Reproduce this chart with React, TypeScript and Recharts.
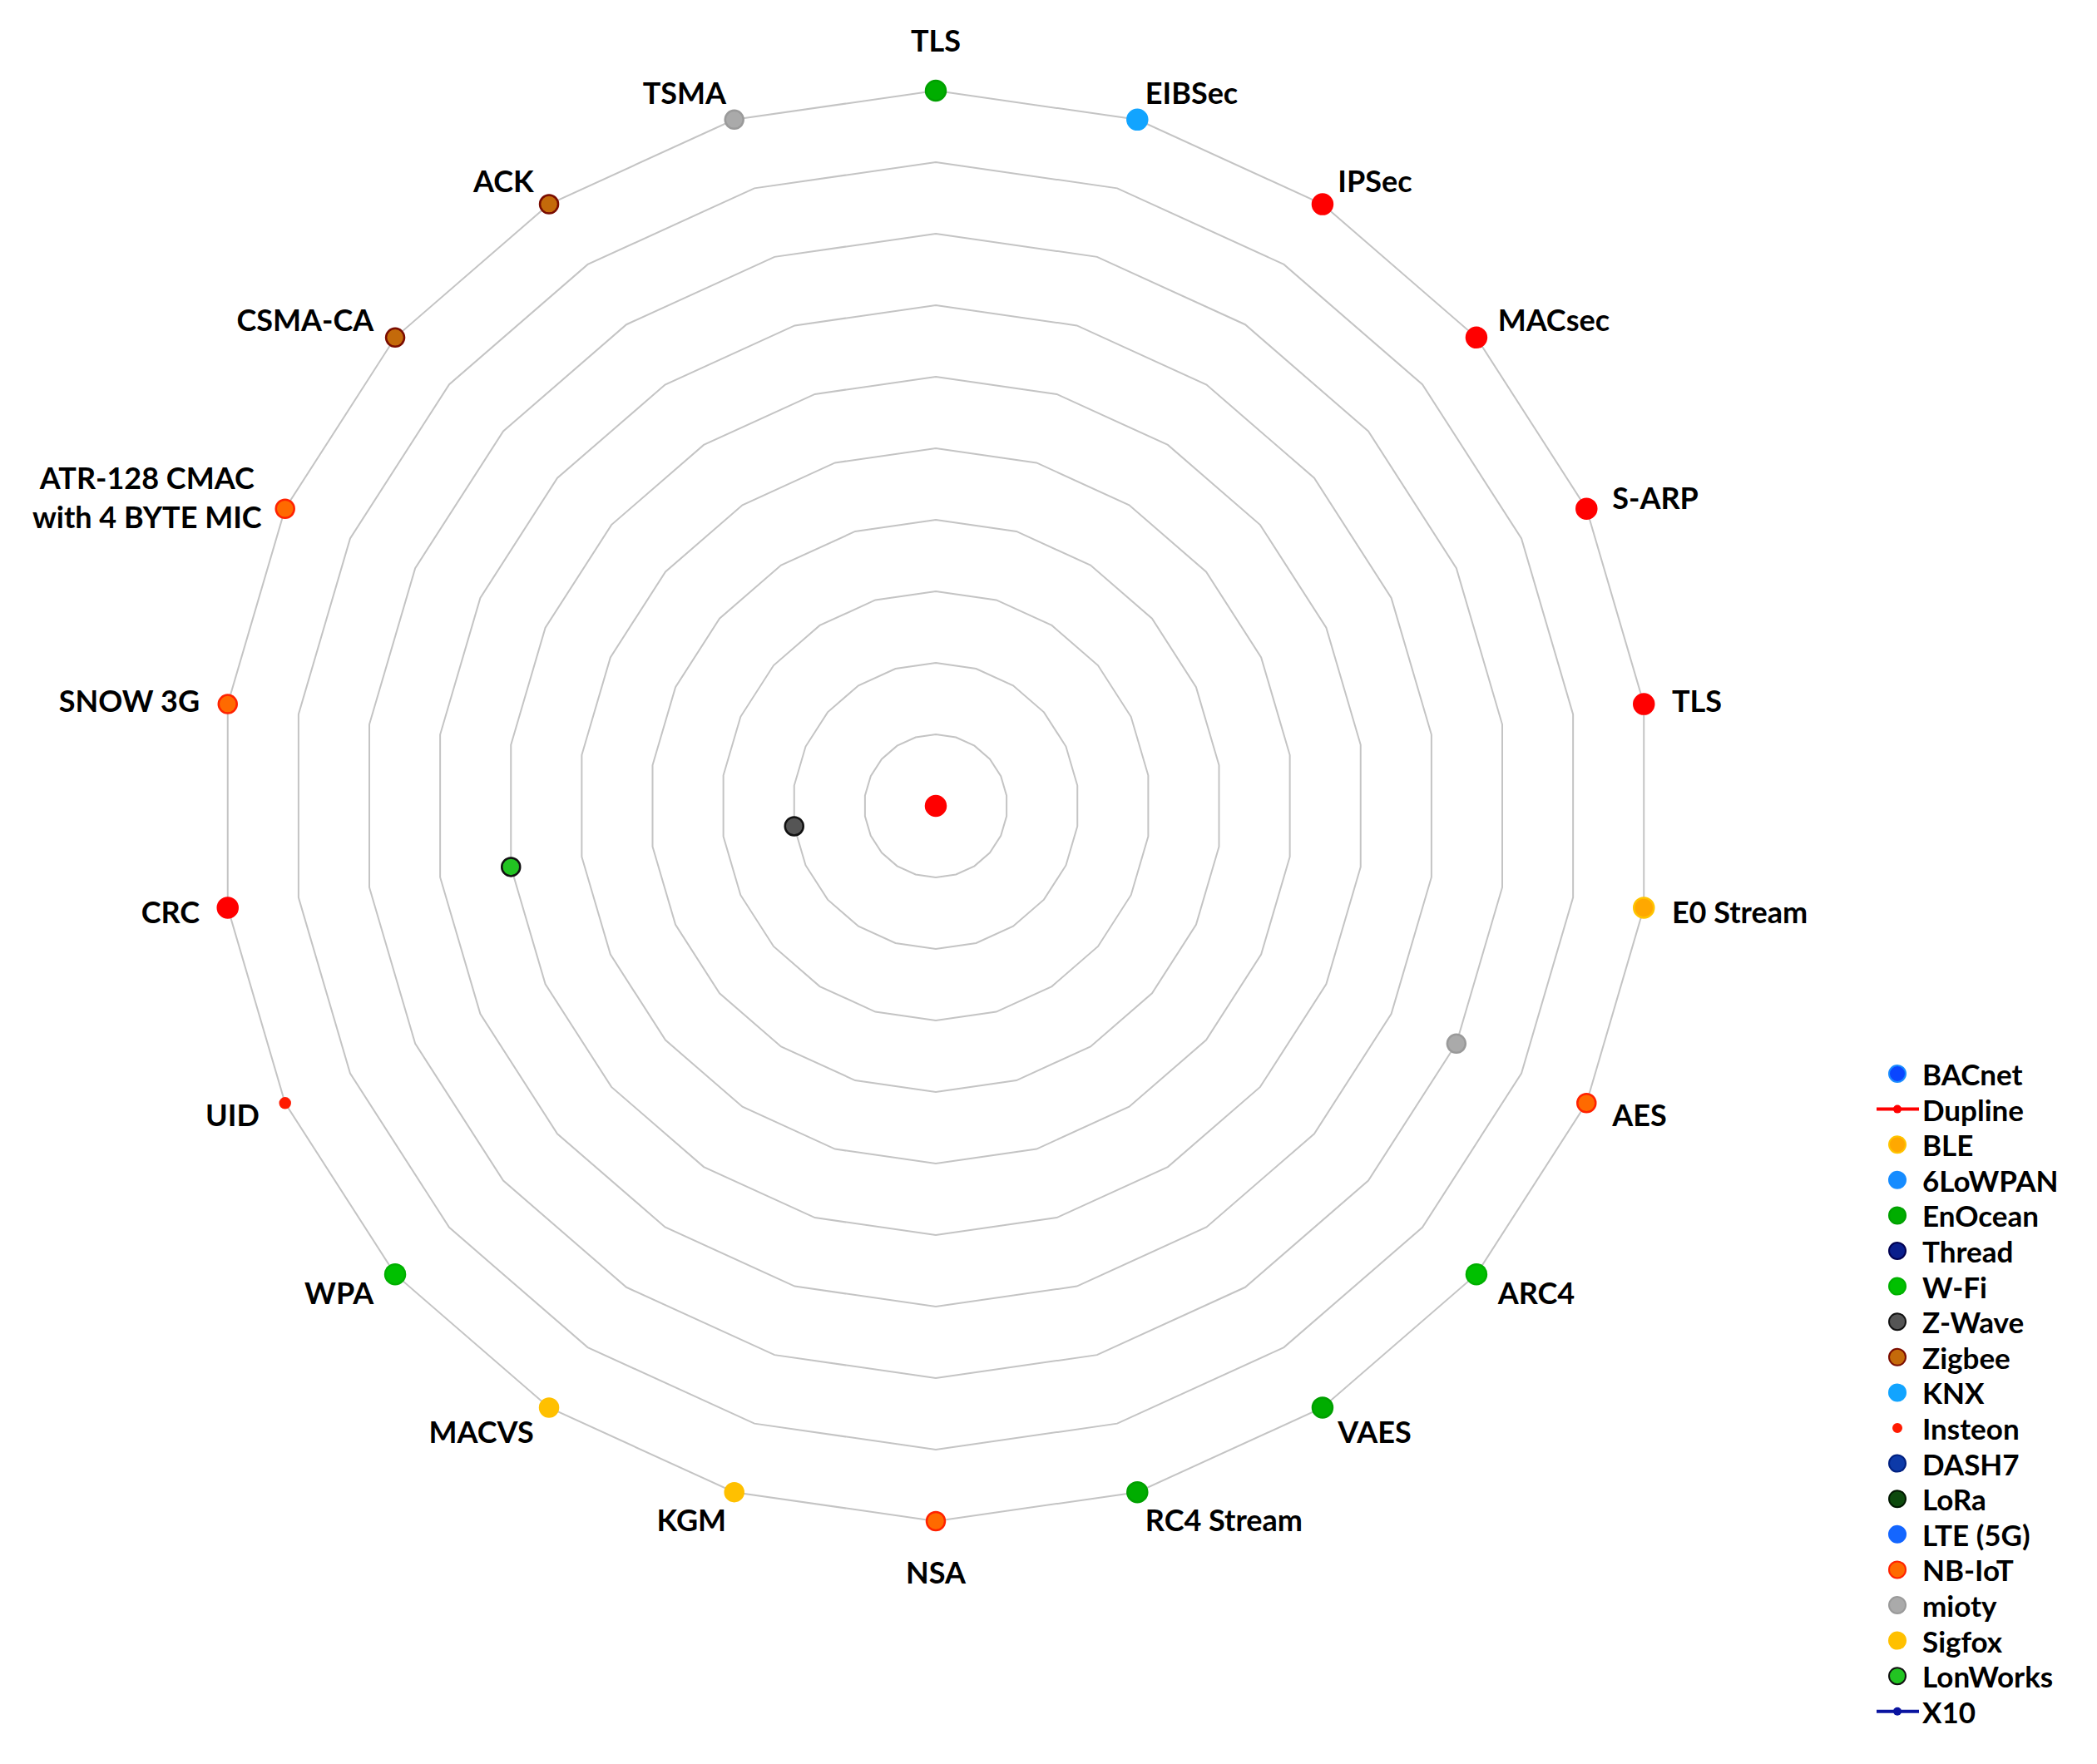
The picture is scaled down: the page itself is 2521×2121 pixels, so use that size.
import {
  RadarChart,
  Radar,
  PolarGrid,
  PolarAngleAxis,
  PolarRadiusAxis,
  Legend,
} from "recharts";

const _ = null;

// axes, clockwise from the top
const axes = [
  "TLS", "EIBSec", "IPSec", "MACsec", "S-ARP", "TLS", "E0 Stream", "AES",
  "ARC4", "VAES", "RC4 Stream", "NSA", "KGM", "MACVS", "WPA", "UID", "CRC",
  "SNOW 3G", "ATR-128 CMAC\nwith 4 BYTE MIC", "CSMA-CA", "ACK", "TSMA",
];

// one value per axis, null = no point for that protocol
//                 TLS EIB IPS MAC SAR TLS E0  AES ARC VAE RC4 NSA KGM MCV WPA UID CRC SNW ATR CSM ACK TSM
const noPoints = [_,  _,  _,  _,  _,  _,  _,  _,  _,  _,  _,  _,  _,  _,  _,  _,  _,  _,  _,  _,  _,  _];
const dupline  = [0,  _,  10, 10, 10, 10, _,  _,  _,  _,  _,  _,  _,  _,  _,  _,  10, _,  _,  _,  _,  _];
const ble      = [_,  _,  _,  _,  _,  _,  10, _,  _,  _,  _,  _,  _,  _,  _,  _,  _,  _,  _,  _,  _,  _];
const enocean  = [10, _,  _,  _,  _,  _,  _,  _,  _,  10, 10, _,  _,  _,  _,  _,  _,  _,  _,  _,  _,  _];
const wifi     = [_,  _,  _,  _,  _,  _,  _,  _,  10, _,  _,  _,  _,  _,  10, _,  _,  _,  _,  _,  _,  _];
const zwave    = [_,  _,  _,  _,  _,  _,  _,  _,  _,  _,  _,  _,  _,  _,  _,  _,  2,  _,  _,  _,  _,  _];
const zigbee   = [_,  _,  _,  _,  _,  _,  _,  _,  _,  _,  _,  _,  _,  _,  _,  _,  _,  _,  _,  10, 10, _];
const knx      = [_,  10, _,  _,  _,  _,  _,  _,  _,  _,  _,  _,  _,  _,  _,  _,  _,  _,  _,  _,  _,  _];
const insteon  = [_,  _,  _,  _,  _,  _,  _,  _,  _,  _,  _,  _,  _,  _,  _,  10, _,  _,  _,  _,  _,  _];
const nbiot    = [_,  _,  _,  _,  _,  _,  _,  10, _,  _,  _,  10, _,  _,  _,  _,  _,  10, 10, _,  _,  _];
const mioty    = [_,  _,  _,  _,  _,  _,  _,  8,  _,  _,  _,  _,  _,  _,  _,  _,  _,  _,  _,  _,  _,  10];
const sigfox   = [_,  _,  _,  _,  _,  _,  _,  _,  _,  _,  _,  _,  10, 10, _,  _,  _,  _,  _,  _,  _,  _];
const lonworks = [_,  _,  _,  _,  _,  _,  _,  _,  _,  _,  _,  _,  _,  _,  _,  _,  6,  _,  _,  _,  _,  _];

const series = [
  { name: "BACnet", values: noPoints, fill: "#0a46ff", stroke: "#1a8cff", r: 10 },
  { name: "Dupline", values: dupline, fill: "#ff0000", stroke: "#ff0000", r: 12, line: true },
  { name: "BLE", values: ble, fill: "#ffa800", stroke: "#ffc400", r: 12 },
  { name: "6LoWPAN", values: noPoints, fill: "#168cff", stroke: "#168cff", r: 10 },
  { name: "EnOcean", values: enocean, fill: "#00ad00", stroke: "#00a000", r: 12 },
  { name: "Thread", values: noPoints, fill: "#0a1e8c", stroke: "#000050", r: 10 },
  { name: "W-Fi", values: wifi, fill: "#00c000", stroke: "#00b000", r: 12 },
  { name: "Z-Wave", values: zwave, fill: "#555555", stroke: "#111111", r: 11 },
  { name: "Zigbee", values: zigbee, fill: "#c46a0a", stroke: "#7a0c00", r: 11 },
  { name: "KNX", values: knx, fill: "#12a4ff", stroke: "#12a4ff", r: 12 },
  { name: "Insteon", values: insteon, fill: "#ff1a00", stroke: "#ff1a00", r: 6 },
  { name: "DASH7", values: noPoints, fill: "#0d3aa8", stroke: "#002080", r: 10 },
  { name: "LoRa", values: noPoints, fill: "#0d4a0d", stroke: "#001800", r: 10 },
  { name: "LTE (5G)", values: noPoints, fill: "#1466ff", stroke: "#1466ff", r: 10 },
  { name: "NB-IoT", values: nbiot, fill: "#ff6a00", stroke: "#ff2200", r: 11 },
  { name: "mioty", values: mioty, fill: "#aaaaaa", stroke: "#9a9a9a", r: 11 },
  { name: "Sigfox", values: sigfox, fill: "#ffc000", stroke: "#ffc000", r: 11 },
  { name: "LonWorks", values: lonworks, fill: "#22c422", stroke: "#111111", r: 11 },
  { name: "X10", values: noPoints, fill: "#0a14a0", stroke: "#0a14a0", r: 10, line: true },
];

const data = axes.map((label, i) => {
  const row: Record<string, any> = { id: i, label };
  series.forEach((s) => {
    row[s.name] = s.values[i];
  });
  return row;
});

const CX = 1125;
const CY = 969;
const FONT = "Lato, 'Noto Sans', sans-serif";

const AxisTick = (props: any) => {
  const { x, y, payload, textAnchor } = props;
  const lines = String(axes[payload.value]).split("\n");
  const dx = x - CX;
  const dy = y - CY;
  const d = Math.hypot(dx, dy) || 1;
  const shift = textAnchor === "middle" ? (27 * dy) / d : 0;
  const lh = 47;
  const y0 = y + shift - ((lines.length - 1) * lh) / 2;
  if (lines.length > 1) {
    // centre the block on its widest line
    const w = Math.max(...lines.map((l) => l.length)) * 18;
    const xc = textAnchor === "end" ? x - w / 2 : textAnchor === "start" ? x + w / 2 : x;
    return (
      <text textAnchor="middle" fontFamily={FONT} fontWeight={700} fontSize={36} fill="#000" dominantBaseline="central">
        {lines.map((l, i) => (
          <tspan key={i} x={xc} y={y0 + i * lh}>{l}</tspan>
        ))}
      </text>
    );
  }
  return (
    <text x={x} y={y0} textAnchor={textAnchor} dominantBaseline="central" fontFamily={FONT} fontWeight={700} fontSize={36} fill="#000">
      {lines[0]}
    </text>
  );
};

const makeDot = (s: any) => (p: any) => {
  const v = s.values[p.index];
  if (v == null) return <g key={`${s.name}-${p.index}`} />;
  return (
    <circle
      key={`${s.name}-${p.index}`}
      cx={p.cx}
      cy={p.cy}
      r={s.r}
      fill={s.fill}
      stroke={s.stroke}
      strokeWidth={2.5}
    />
  );
};

const ROW = 42.6;

const LegendBox = () => (
  <svg width={280} height={series.length * ROW + 10}>
    {series.map((s, i) => {
      const y = 21 + i * ROW;
      return (
        <g key={s.name}>
          {s.line ? (
            <g>
              <line x1={6} x2={57} y1={y} y2={y} stroke={s.fill} strokeWidth={4} />
              <circle cx={31} cy={y} r={5} fill={s.fill} />
            </g>
          ) : (
            <circle cx={31} cy={y} r={s.name === "Insteon" ? 5 : 10} fill={s.fill} stroke={s.stroke} strokeWidth={2} />
          )}
          <text x={61} y={y} dominantBaseline="central" fontFamily={FONT} fontWeight={700} fontSize={35} fill="#000">
            {s.name}
          </text>
        </g>
      );
    })}
  </svg>
);

export default function App() {
  return (
    <div style={{ position: "absolute", left: 0, top: 0, width: 2521, height: 2121, background: "#fff" }}>
      <RadarChart
        width={2521}
        height={2121}
        data={data}
        cx={CX}
        cy={CY}
        outerRadius={860}
        margin={{ top: 0, right: 0, bottom: 0, left: 0 }}
      >
        <PolarGrid gridType="polygon" radialLines={false} stroke="#c4c4c4" strokeWidth={2} />
        <PolarAngleAxis dataKey="id" tick={AxisTick} tickLine={false} axisLine={false} tickSize={34} />
        <PolarRadiusAxis domain={[0, 10]} tickCount={11} tick={false} axisLine={false} />
        {series.map((s) => (
          <Radar
            key={s.name}
            name={s.name}
            dataKey={s.name}
            fill="none"
            stroke="none"
            dot={makeDot(s)}
            isAnimationActive={false}
          />
        ))}
        <Legend
          layout="vertical"
          align="right"
          verticalAlign="top"
          content={() => <LegendBox />}
          wrapperStyle={{ left: 2250, top: 1270, right: "auto", width: 280 }}
        />
      </RadarChart>
    </div>
  );
}
